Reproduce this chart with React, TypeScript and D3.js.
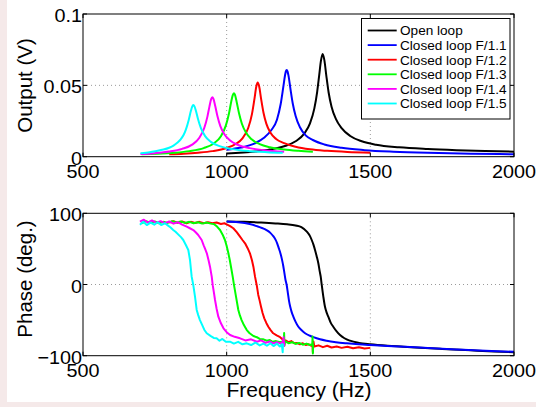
import React from 'react';
import * as d3 from 'd3';

// ---------- data ----------
const seriesNames = [
  'Open loop',
  'Closed loop F/1.1',
  'Closed loop F/1.2',
  'Closed loop F/1.3',
  'Closed loop F/1.4',
  'Closed loop F/1.5',
];
const seriesColors = ['#000000', '#0000ff', '#ff0000', '#00ff00', '#ff00ff', '#00ffff'];

const xTicks = [500, 1000, 1500, 2000];
const xTickLabels = ['500', '1000', '1500', '2000'];
const magTicks = [0, 0.05, 0.1];
const magTickLabels = ['0', '0.05', '0.1'];
const phaseTicks = [-100, 0, 100];
const phaseTickLabels = ['\u2212100', '0', '100'];

// Output (V) vs frequency (Hz)
const openLoopMag: [number, number][] = [
  [1000, 0.0022], [1100, 0.0037], [1150, 0.005], [1200, 0.0073], [1240, 0.0108], [1270, 0.0162],
  [1290, 0.0234], [1305, 0.0337], [1315, 0.0455], [1322, 0.057], [1328, 0.0671], [1334, 0.072],
  [1340, 0.0677], [1347, 0.0565], [1355, 0.0448], [1365, 0.035], [1380, 0.0265], [1400, 0.02],
  [1430, 0.0145], [1470, 0.0108], [1520, 0.0084], [1600, 0.0066], [1700, 0.0054], [1800, 0.0046],
  [1900, 0.004], [2000, 0.0035],
];
const cl11Mag: [number, number][] = [
  [1000, 0.0048], [1050, 0.0064], [1100, 0.0095], [1130, 0.0132], [1155, 0.0185], [1175, 0.0259],
  [1188, 0.0369], [1197, 0.0487], [1203, 0.0569], [1206, 0.0598], [1209, 0.0608], [1212, 0.0596],
  [1215, 0.057], [1222, 0.0475], [1230, 0.0373], [1240, 0.0285], [1255, 0.0206], [1275, 0.0149],
  [1300, 0.0117], [1340, 0.0086], [1400, 0.0062], [1480, 0.0046], [1580, 0.0035], [1700, 0.0027],
  [1850, 0.0021], [2000, 0.0017],
];
const cl12Mag: [number, number][] = [
  [800, 0.0017], [850, 0.0021], [900, 0.0028], [950, 0.0039], [1000, 0.0061], [1030, 0.0087],
  [1055, 0.0129], [1075, 0.0201], [1088, 0.0298], [1097, 0.0409], [1103, 0.049], [1108, 0.052],
  [1113, 0.0493], [1120, 0.0403], [1128, 0.031], [1138, 0.0232], [1152, 0.0169], [1172, 0.0124],
  [1200, 0.0095], [1240, 0.007], [1290, 0.0052], [1350, 0.0041], [1420, 0.0033], [1500, 0.0028],
];
const cl13Mag: [number, number][] = [
  [704, 0.0018], [760, 0.0021], [820, 0.0028], [870, 0.0039], [920, 0.006], [955, 0.0093],
  [980, 0.0144], [997, 0.0218], [1008, 0.0303], [1016, 0.0387], [1021, 0.043], [1025, 0.0444],
  [1029, 0.0433], [1035, 0.0382], [1043, 0.0304], [1053, 0.0231], [1067, 0.0169], [1087, 0.0122],
  [1115, 0.0088], [1150, 0.0066], [1200, 0.005], [1250, 0.0041], [1300, 0.0035],
];
const cl14Mag: [number, number][] = [
  [700, 0.0019], [750, 0.0025], [800, 0.0036], [845, 0.0055], [880, 0.0085], [905, 0.0133],
  [922, 0.0201], [933, 0.0281], [940, 0.0351], [946, 0.0403], [950, 0.0416], [954, 0.0405],
  [960, 0.0357], [968, 0.0283], [978, 0.0214], [992, 0.0157], [1012, 0.0113], [1040, 0.0082],
  [1080, 0.006], [1130, 0.0046], [1200, 0.0035],
];
const cl15Mag: [number, number][] = [
  [700, 0.0025], [720, 0.0028], [740, 0.0034], [760, 0.0041], [780, 0.005], [800, 0.0063],
  [815, 0.0078], [828, 0.0098], [840, 0.0122], [850, 0.0152], [858, 0.019], [868, 0.0258],
  [876, 0.0325], [880, 0.0351], [884, 0.0362], [888, 0.0353], [893, 0.0322], [900, 0.0266],
  [910, 0.0202], [925, 0.0144], [945, 0.0104], [975, 0.0074], [1020, 0.0053], [1080, 0.0039],
  [1140, 0.0032], [1195, 0.0028],
];

// Phase (deg.) vs frequency (Hz)
const openLoopPhase: [number, number][] = [
  [1000, 88.5], [1060, 88], [1120, 87], [1170, 85.8], [1210, 84.5], [1240, 82.8], [1260, 80.5],
  [1279, 74.2], [1290, 68], [1296, 62.5], [1302, 56], [1307.5, 48.5], [1313, 40], [1319, 29.8],
  [1324, 18], [1327.3, 11], [1331, -1], [1336.4, -17], [1342, -31], [1348, -39.5], [1354, -45.5],
  [1362, -53.5], [1371, -59.3], [1382, -65.5], [1394.5, -70.9], [1410, -75.5], [1429, -78.9],
  [1460, -82], [1500, -84], [1560, -86], [1615, -87.3], [1673, -88.8], [1750, -90.5], [1850, -92.5],
  [1930, -94], [2000, -95],
];
const cl11Phase: [number, number][] = [
  [1000, 88.5], [1040, 87.5], [1080, 85], [1105, 82], [1125, 79], [1140, 76], [1152, 72.5],
  [1162, 68], [1170, 63], [1176, 57.5], [1181, 51.5], [1187, 44], [1192, 36], [1197, 26], [1201, 16],
  [1205, 6], [1209, -1], [1213, -12], [1217, -23], [1221, -31], [1226, -38.5], [1232, -45],
  [1240, -52.5], [1249, -59], [1260, -64], [1273, -68.5], [1290, -72], [1302, -74], [1325, -77],
  [1348, -79], [1380, -81], [1418, -82.6], [1460, -84], [1500, -85], [1560, -86.3], [1620, -87.5],
  [1700, -89.3], [1800, -91.2], [1900, -93], [2000, -94.6],
];
const cl12Phase: [number, number][] = [
  [800, 87], [815, 89], [830, 86.5], [845, 88.5], [860, 86], [875, 88], [890, 86.5], [905, 88],
  [920, 86], [935, 87.5], [950, 86], [965, 87], [980, 85], [992, 86], [1000, 84.5], [1012, 82],
  [1023, 79], [1035, 73.5], [1046.5, 67.2], [1055, 62.5], [1064, 57.9], [1073, 51], [1081, 43.8],
  [1088, 34], [1093, 25], [1098.7, 11], [1104.6, -1], [1110, -14.7], [1115, -23], [1119.6, -31.2],
  [1125, -40], [1131, -47.5], [1138, -54], [1145, -59.3], [1153, -64], [1162, -68.5], [1174, -71.5],
  [1186, -74], [1197, -78], [1205, -78.5], [1215, -81], [1225, -79.5], [1235, -82.5], [1244, -82],
  [1255, -84], [1265, -82.5], [1275, -85], [1285, -84], [1295, -86], [1299, -85], [1300, -95],
  [1302, -80], [1305, -87], [1320, -85.5], [1335, -88], [1350, -86], [1365, -88.5], [1383, -87],
  [1400, -89], [1420, -87.5], [1440, -89.5], [1460, -88], [1480, -90], [1500, -89],
];
const cl13Phase: [number, number][] = [
  [704, 86], [720, 89], [735, 86.5], [750, 88.5], [765, 86], [780, 88], [795, 86.5], [810, 89],
  [825, 87], [840, 88.5], [855, 86.5], [870, 88], [885, 86], [900, 87.5], [915, 85.5], [930, 87],
  [945, 85.5], [955, 85], [965, 82], [977, 76.5], [986, 70], [994, 62.5], [1000, 54], [1006, 43.8],
  [1011, 34], [1015, 25], [1021, 11], [1025.6, -1], [1032.5, -17], [1040.6, -35.8], [1046, -43.5],
  [1052, -50], [1060, -57], [1070, -64], [1080, -68.5], [1093, -72.4], [1105, -74], [1115, -76.5],
  [1128, -77], [1140, -79], [1150, -78], [1160, -80.5], [1172, -79.5], [1186, -81], [1195, -80],
  [1199, -84], [1200, -68], [1201, -86], [1204, -80], [1215, -82.5], [1228, -81], [1240, -83.5],
  [1252, -82], [1265, -84.5], [1278, -83], [1290, -85], [1298, -84], [1299, -73], [1300, -97],
  [1301, -84],
];
const cl14Phase: [number, number][] = [
  [698, 88.2], [712, 91], [725, 87], [740, 90], [755, 86.5], [770, 89], [785, 86], [800, 88.5],
  [815, 85.5], [830, 87.5], [845, 84], [861, 81.2], [872, 79], [884, 76.5], [893, 73], [901, 69.5],
  [907, 66], [913, 62.5], [920, 55], [925, 50], [931, 43.8], [937, 34], [942, 25], [948, 11],
  [951.5, -1], [955.5, -11], [959.5, -21.8], [965, -34], [971, -45.2], [980, -54.5], [989, -61.5],
  [1000, -67], [1012, -70.9], [1028, -73.5], [1046.5, -75.6], [1065, -78.5], [1085, -77],
  [1105, -80.3], [1120, -78.5], [1135, -82], [1150, -80], [1162, -82.6], [1175, -81], [1188, -83],
  [1196, -80], [1198, -74], [1200, -86], [1201, -81],
];
const cl15Phase: [number, number][] = [
  [698, 84], [710, 88], [722, 83.5], [735, 87], [748, 84], [760, 87.5], [772, 83.5], [785, 86],
  [795, 83], [805, 80], [814, 76.5], [822, 74], [832, 70], [841, 66.5], [849, 62.5], [858, 55.5],
  [866.5, 48.5], [872.4, 34.4], [878.2, 11], [883.9, -1], [889.8, -17], [895.7, -35.8], [901, -43],
  [907, -50], [915, -57], [922, -63.5], [930.6, -68.5], [945, -72.5], [955, -75], [965, -75.6],
  [975, -79], [985, -76.5], [997, -80.5], [1011.7, -80.3], [1025, -83], [1040, -80.5], [1055, -84],
  [1070, -82.6], [1085, -85], [1100, -81.5], [1115, -85.5], [1128, -83], [1140, -86], [1152, -82.5],
  [1163, -86.5], [1175, -83], [1185, -87], [1192, -84], [1195, -95], [1196, -83],
];

const magSeries = [openLoopMag, cl11Mag, cl12Mag, cl13Mag, cl14Mag, cl15Mag];
const phaseSeries = [openLoopPhase, cl11Phase, cl12Phase, cl13Phase, cl14Phase, cl15Phase];

// ---------- drawing ----------
const FONT = "'Liberation Sans', Arial, Helvetica, sans-serif";
const W = 536;
const H = 407;
const LEFT = 83;
const RIGHT = 514;

function STxt(props: {
  x: number; y: number; anchor?: string; size: number; sx?: number; rotate?: number; children: any;
}) {
  const { x, y, anchor = 'start', size, sx = 1, rotate = 0, children } = props;
  const tr = `translate(${x},${y})` + (rotate ? ` rotate(${rotate})` : '') + ` scale(${sx},1)`;
  return (
    <text transform={tr} textAnchor={anchor} fontSize={size} fontFamily={FONT} fill="#000">
      {children}
    </text>
  );
}

function Panel(props: {
  id: string;
  top: number;
  bottom: number;
  yDomain: [number, number];
  yTicks: number[];
  yLabels: string[];
  yGrid: number[];
  series: [number, number][][];
  noisyFrom: number;
  yTitle: string;
  yTitleY: number;
}) {
  const { id, top, bottom, yDomain, yTicks, yLabels, yGrid, series, noisyFrom, yTitle, yTitleY } = props;
  const x = d3.scaleLinear().domain([500, 2000]).range([LEFT, RIGHT]);
  const y = d3.scaleLinear().domain(yDomain).range([bottom, top]);
  const smooth = d3
    .line<[number, number]>()
    .x((d) => x(d[0]))
    .y((d) => y(d[1]))
    .curve(d3.curveMonotoneX);
  const jag = d3
    .line<[number, number]>()
    .x((d) => x(d[0]))
    .y((d) => y(d[1]))
    .curve(d3.curveLinear);
  const tl = 4;
  const gridX = xTicks.filter((t) => t > 500 && t < 2000);
  return (
    <g>
      <defs>
        <clipPath id={id}>
          <rect x={LEFT} y={top} width={RIGHT - LEFT} height={bottom - top} />
        </clipPath>
      </defs>
      <rect x={LEFT} y={top} width={RIGHT - LEFT} height={bottom - top} fill="#fff" />
      {gridX.map((t) => (
        <line key={'gx' + t} x1={x(t)} x2={x(t)} y1={top} y2={bottom} stroke="#9a9a9a" strokeWidth={1} strokeDasharray="1,3" />
      ))}
      {yGrid.map((t) => (
        <line key={'gy' + t} x1={LEFT} x2={RIGHT} y1={y(t)} y2={y(t)} stroke="#9a9a9a" strokeWidth={1} strokeDasharray="1,3" />
      ))}
      <g clipPath={`url(#${id})`}>
        {series.map((s, i) => (
          <path
            key={i}
            d={(i >= noisyFrom ? jag(s) : smooth(s)) || ''}
            fill="none"
            stroke={seriesColors[i]}
            strokeWidth={2}
            strokeLinejoin="round"
          />
        ))}
      </g>
      {xTicks.map((t) => (
        <g key={'xt' + t}>
          <line x1={x(t)} x2={x(t)} y1={bottom} y2={bottom - tl} stroke="#000" />
          <line x1={x(t)} x2={x(t)} y1={top} y2={top + tl} stroke="#000" />
        </g>
      ))}
      {yTicks.map((t) => (
        <g key={'yt' + t}>
          <line x1={LEFT} x2={LEFT + tl} y1={y(t)} y2={y(t)} stroke="#000" />
          <line x1={RIGHT} x2={RIGHT - tl} y1={y(t)} y2={y(t)} stroke="#000" />
        </g>
      ))}
      <rect x={LEFT} y={top} width={RIGHT - LEFT} height={bottom - top} fill="none" stroke="#000" strokeWidth={1} />
      {xTicks.map((t, i) => (
        <STxt key={'xl' + t} x={x(t)} y={bottom + 21.5} anchor="middle" size={18.5} sx={1.07}>
          {xTickLabels[i]}
        </STxt>
      ))}
      {yTicks.map((t, i) => (
        <STxt key={'yl' + t} x={82} y={y(t) + 8} anchor="end" size={18.5} sx={1.07}>
          {yLabels[i]}
        </STxt>
      ))}
      <STxt x={32} y={yTitleY} anchor="middle" size={20.5} rotate={-90}>
        {yTitle}
      </STxt>
    </g>
  );
}

function Legend() {
  const bx = 361.5;
  const by = 18.5;
  const bw = 148.5;
  const bh = 100.5;
  const rowY = d3.scaleLinear().domain([0, seriesNames.length - 1]).range([30.5, 103.5]);
  return (
    <g>
      <rect x={bx} y={by} width={bw} height={bh} fill="#fff" stroke="#000" strokeWidth={1} />
      {seriesNames.map((n, i) => (
        <g key={n}>
          <line x1={367.7} x2={396.7} y1={rowY(i)} y2={rowY(i)} stroke={seriesColors[i]} strokeWidth={1.8} />
          <STxt x={400} y={rowY(i) + 4.9} size={13.6}>
            {n}
          </STxt>
        </g>
      ))}
    </g>
  );
}

export default function App() {
  return (
    <svg
      width={W}
      height={H}
      viewBox={`0 0 ${W} ${H}`}
      style={{ position: 'absolute', left: 0, top: 0, display: 'block' }}
    >
      <rect x={0} y={0} width={W} height={H} fill="#f5e9e9" />
      <rect x={7} y={0} width={W - 7} height={402} fill="#ffffff" />
      <Panel
        id="clipTop"
        top={14}
        bottom={156.7}
        yDomain={[0, 0.1]}
        yTicks={magTicks}
        yLabels={magTickLabels}
        yGrid={[0.05]}
        series={magSeries}
        noisyFrom={99}
        yTitle="Output (V)"
        yTitleY={85.5}
      />
      <Panel
        id="clipBot"
        top={213.3}
        bottom={355.7}
        yDomain={[-100, 100]}
        yTicks={phaseTicks}
        yLabels={phaseTickLabels}
        yGrid={[0]}
        series={phaseSeries}
        noisyFrom={2}
        yTitle="Phase (deg.)"
        yTitleY={279}
      />
      <Legend />
      <STxt x={299} y={396.5} anchor="middle" size={19.5} sx={1.08}>
        Frequency (Hz)
      </STxt>
    </svg>
  );
}
